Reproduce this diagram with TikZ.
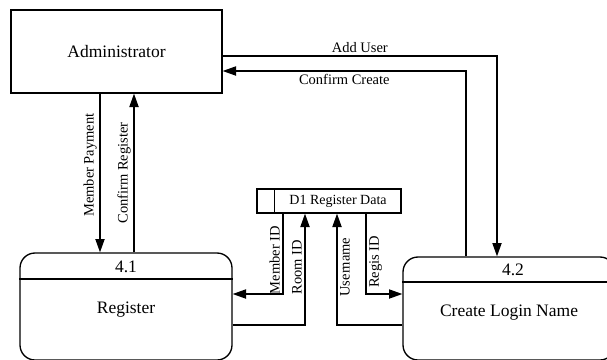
\documentclass[tikz,border=0pt]{standalone}
\usepackage{fontspec}
\setmainfont{Liberation Serif}
\usepackage{tikz}
\usetikzlibrary{positioning,shapes,calc,arrows.meta}

\begin{document}
\begin{tikzpicture}[x=0.6pt, y=-0.6pt, line width=0.8pt, -{Triangle[length=8pt,width=5.5pt]},
        entity/.style = {draw, rectangle, minimum width=126.6pt, minimum height=49.8pt, font=\fontsize{10.5}{12}\selectfont},
        process/.style = {draw, rectangle, rounded corners=9pt, minimum width=127.2pt},
        store/.style = {draw, rectangle, minimum width=86.4pt, minimum height=14.4pt},
        flow/.style = {font=\fontsize{8.7}{10}\selectfont, inner sep=1.5pt},
        vflow/.style = {flow, rotate=90}]
        \clip (0,0) rectangle (607,359);

        \node[entity] (adm) at (116.5,51.5) {Administrator};

        \node[process, minimum height=64.2pt] (p41) at (126,306.5) {};
        \node[font=\fontsize{10.5}{12}\selectfont] (n41) at (126,267) {4.1};
        \node[font=\fontsize{10.5}{12}\selectfont] (t41) at (126,310) {Register};

        \node[process, minimum height=61.8pt] (p42) at (509,308.5) {};
        \node[font=\fontsize{10.5}{12}\selectfont] (n42) at (513,270) {4.2};
        \node[font=\fontsize{10.5}{12}\selectfont] (t42) at (509,313) {Create Login Name};

        \node[store] (d1) at (329,201) {};
        \node[font=\fontsize{8.4}{10}\selectfont] (t1) at (338,201) {D1 Register Data};

        % process dividers
        \draw[-] (p41.west |- n41.south) -- (p41.east |- n41.south);
        \draw[-] (p42.west |- n42.south) -- (p42.east |- n42.south);
        \draw[-] ($(d1.north west)+(18,0)$) -- ($(d1.south west)+(18,0)$);

        % flows
        \draw ($(adm.east)+(0,4.5)$) -| node[flow, pos=0.25, above] {Add User} ($(p42.north)+(-12,0)$);
        \draw ($(p42.north)+(-43,0)$) |- node[flow, pos=0.75, below] {Confirm Create} ($(adm.east)+(0,19.5)$);

        \draw ($(adm.south)+(-16.5,0)$) -- node[vflow, pos=0.45, above] {Member Payment} ($(p41.north)+(-26,0)$);
        \draw ($(p41.north)+(8,0)$) -- node[vflow, pos=0.5, above] {Confirm Register} ($(adm.south)+(17.5,0)$);

        \draw ($(d1.south)+(-46,0)$) |- node[vflow, pos=0.29, above] {Member ID} ($(p41.east)+(0,-12.5)$);
        \draw ($(p41.east)+(0,18.5)$) -| node[vflow, pos=0.76, above] {Room ID} ($(d1.south)+(-24,0)$);
        \draw ($(p42.west)+(0,16.5)$) -| node[vflow, pos=0.76, below] {Username} ($(d1.south)+(8,0)$);
        \draw ($(d1.south)+(37,0)$) |- node[vflow, pos=0.3, below] {Regis ID} ($(p42.west)+(0,-14.5)$);
    \end{tikzpicture}
\end{document}
